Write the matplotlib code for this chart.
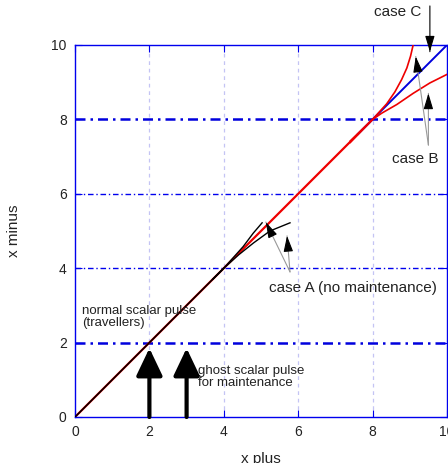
import matplotlib.pyplot as plt
import numpy as np

plt.rcParams["font.family"] = ["Liberation Sans", "DejaVu Sans"]

# main diagonal pieces
red_main_x = [0, 8]
red_main_y = [0, 8]
black_main_x = [0, 4]
black_main_y = [0, 4]
blue_x = [7.6, 10]
blue_y = [7.6, 10]

# case A branches (black)
a_up_x = [3.7, 4.0, 4.52, 4.79, 5.03]
a_up_y = [3.7, 4.0, 4.58, 4.94, 5.22]
a_low_x = [3.7, 4.0, 4.4, 4.8, 5.24, 5.78]
a_low_y = [3.7, 4.0, 4.36, 4.68, 5.0, 5.22]

# case B branches (red)
b_up_x = [7.4, 8.0, 8.38, 8.60, 8.78, 8.92, 9.02, 9.09]
b_up_y = [7.38, 8.0, 8.42, 8.74, 9.07, 9.38, 9.70, 10.0]
b_low_x = [7.4, 8.0, 8.25, 8.65, 9.09, 9.54, 10.0]
b_low_y = [7.42, 8.0, 8.17, 8.40, 8.70, 8.98, 9.21]

ghost_x = [2, 3]
ghost_tip = 1.85

xticks = [0, 2, 4, 6, 8, 10]
yticks = [0, 2, 4, 6, 8, 10]


def pointer(ax, start, tip, shaft="0.6", clip=True):
    # thin gray shaft with a small black head, gnuplot style
    sx, sy = start
    tx, ty = tip
    ax.annotate("", xy=tip, xytext=start, annotation_clip=clip,
                arrowprops=dict(arrowstyle="-", color=shaft, lw=0.8,
                                shrinkA=0, shrinkB=0), zorder=5)
    d = np.hypot(tx - sx, ty - sy)
    back = (tx - 0.3 * (tx - sx) / d, ty - 0.3 * (ty - sy) / d)
    ax.annotate("", xy=tip, xytext=back, annotation_clip=clip,
                arrowprops=dict(arrowstyle="-|>,head_length=0.8,head_width=0.24",
                                color="black", lw=0.8, shrinkA=0, shrinkB=0,
                                mutation_scale=12), zorder=6)


fig = plt.figure(figsize=(4.48, 4.63), dpi=100)
ax = fig.add_axes([75 / 448, 1 - 417 / 463, 372 / 448, 372 / 463])
ax.set_xlim(0, 10)
ax.set_ylim(0, 10)

# grid
for gx in [2, 4, 6, 8]:
    ax.axvline(gx, color="#c4c4f4", lw=0.9, ls=(0, (3, 3)), zorder=0)
for gy in [2, 8]:
    ax.axhline(gy, color="#0000dd", lw=1.8, ls=(0, (4, 2, 1, 2)), zorder=0)
for gy in [4, 6]:
    ax.axhline(gy, color="#0000ee", lw=1.0, ls=(0, (4, 2, 1, 2)), zorder=0)

# curves
ax.plot(red_main_x, red_main_y, color="#ee0000", lw=1.6, zorder=2)
ax.plot(black_main_x, black_main_y, color="black", lw=1.1, zorder=3)
ax.plot(a_up_x, a_up_y, color="black", lw=1.0, zorder=2)
ax.plot(a_low_x, a_low_y, color="black", lw=1.0, zorder=2)
ax.plot(blue_x, blue_y, color="#0000dd", lw=1.4, zorder=3)
ax.plot(b_up_x, b_up_y, color="#ee0000", lw=1.2, zorder=3)
ax.plot(b_low_x, b_low_y, color="#ee0000", lw=1.2, zorder=3)

# ghost pulses (big black arrows)
for gx in ghost_x:
    ax.annotate("", xy=(gx, ghost_tip), xytext=(gx, 0),
                arrowprops=dict(arrowstyle="-|>,head_length=1.05,head_width=0.5",
                                color="black", lw=3.0, shrinkA=0, shrinkB=0,
                                mutation_scale=16),
                zorder=4)

# annotation arrows
for tip in [(5.13, 5.24), (5.70, 4.87)]:
    pointer(ax, (5.78, 3.90), tip)
for tip in [(9.16, 9.69), (9.50, 8.70)]:
    pointer(ax, (9.50, 7.31), tip)
pointer(ax, (9.54, 11.05), (9.54, 9.82), shaft="black", clip=False)

# texts
ax.text(5.21, 3.47, "case A (no maintenance)", fontsize=11, va="center", color="#222222")
ax.text(8.52, 6.94, "case B", fontsize=11, va="center", color="#222222")
ax.text(8.04, 10.89, "case C", fontsize=11, va="center", color="#222222", clip_on=False)
ax.text(0.19, 2.69, "normal scalar pulse\n(travellers)", fontsize=9.5, va="center",
        linespacing=0.95, color="#222222")
ax.text(3.31, 1.07, "ghost scalar pulse\nfor maintenance", fontsize=9.5, va="center",
        linespacing=0.95, color="#222222")

# axes styling
for sp in ax.spines.values():
    sp.set_color("#0000ee")
    sp.set_linewidth(1.0)
ax.set_xticks(xticks)
ax.set_yticks(yticks)
ax.tick_params(direction="in", length=5, color="#0000ee", labelsize=10,
               top=True, right=True, labelcolor="#222222", pad=6)
ax.set_xlabel("x plus", fontsize=11, labelpad=9, color="#222222")
ax.set_ylabel("x minus", fontsize=11, labelpad=22, color="#222222")

fig.savefig("out.png", dpi=100)
